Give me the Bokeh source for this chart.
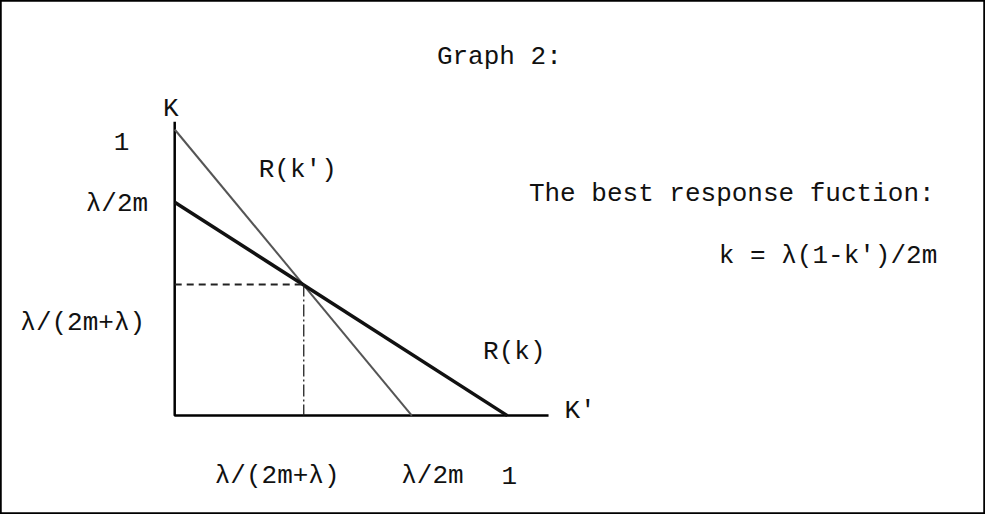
from bokeh.plotting import figure
from bokeh.models import Range1d
from bokeh.core.properties import value
from bokeh.embed import file_html
from bokeh.resources import INLINE

# ---- diagram data (unit coordinates: origin at axes corner, K'=1 / K=1) ----
axis_x = [0.0, 0.0, 1.124]
axis_y = [1.027, 0.0, 0.0]
rkp_x = [0.0, 0.713]      # R(k') : steep reaction line
rkp_y = [1.0, 0.0]
rk_x = [0.0, 1.0]         # R(k) : flatter reaction line
rk_y = [0.746, 0.0]
eq_x = [0.388]            # equilibrium point
eq_y = [0.458]

# labels
title_text = ["Graph 2:"]
title_x, title_y = [0.976], [1.254]
ylab_text = ["K", "1"]
ylab_x, ylab_y = [-0.012, -0.160], [1.071, 0.959]
yl_text = ["λ/2m", "λ/(2m+λ)"]
yl_x, yl_y = [-0.080, -0.089], [0.739, 0.322]
curve_text = ["R(k')", "R(k)"]
curve_x, curve_y = [0.370, 1.021], [0.858, 0.224]
xax_text = ["K'"]
xax_x, xax_y = [1.172], [0.017]
note_text = ["The best response fuction:", "k = λ(1-k')/2m"]
note_x, note_y = [1.065, 1.636], [0.773, 0.559]
xt_text = ["λ/(2m+λ)", "λ/2m", "1"]
xt_x, xt_y = [0.308, 0.775, 1.006], [-0.210, -0.210, -0.210]

W, H = 985, 514
PX, PY = 332.6, 286.1     # pixels per unit
X0, Y0 = 174.2, 415.1     # canvas position of the origin
p = figure(width=W, height=H, output_backend="svg", toolbar_location=None,
           x_range=Range1d(-X0 / PX, (W - X0) / PX),
           y_range=Range1d(-(H - Y0) / PY, Y0 / PY),
           min_border=0)
p.axis.visible = False
p.grid.visible = False
p.outline_line_color = "black"
p.outline_line_width = 2.5
p.background_fill_color = "white"

FONT = value("Liberation Mono")
FS = "26px"

# axes
p.line(axis_x, axis_y, line_color="black", line_width=2.5)
# reaction lines
p.line(rkp_x, rkp_y, line_color="#555555", line_width=2)
p.line(rk_x, rk_y, line_color="#111111", line_width=3.5)
# guide lines to the equilibrium
p.line([0, eq_x[0]], [eq_y[0], eq_y[0]], line_color="#222222", line_width=2, line_dash="7 5")
p.line([eq_x[0], eq_x[0]], [eq_y[0], 0], line_color="#222222", line_width=1.3, line_dash="12 3 2 3")

def txt(xs, ys, t, align="center"):
    p.text(xs, ys, text=t, text_font=FONT, text_font_size=FS, text_color="#111111",
           text_align=align, text_baseline="middle")

txt(title_x, title_y, title_text)
txt(ylab_x, ylab_y, ylab_text)
txt(yl_x, yl_y, yl_text, "right")
txt(curve_x, curve_y, curve_text)
txt(xax_x, xax_y, xax_text, "left")
txt(note_x, note_y, note_text, "left")
txt(xt_x, xt_y, xt_text)

open("out.html", "w").write(file_html(p, INLINE))
